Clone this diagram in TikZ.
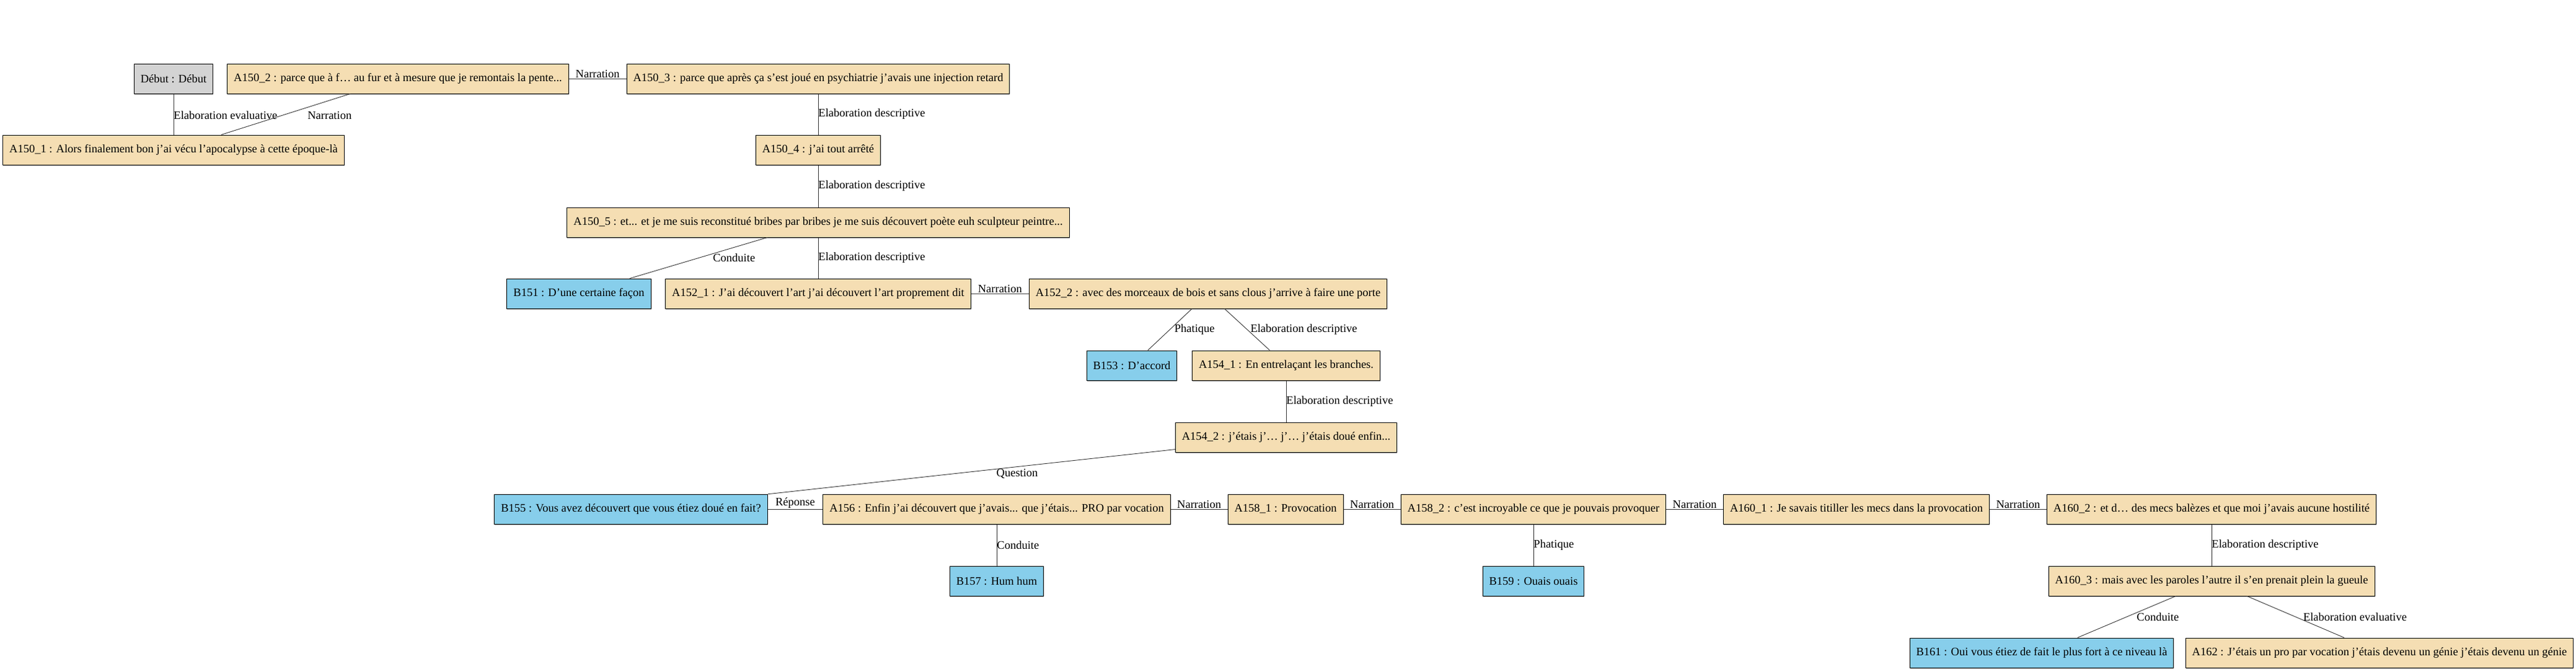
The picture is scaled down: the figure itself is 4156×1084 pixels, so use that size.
\documentclass[tikz,border=0pt]{standalone}
\usepackage{fontspec}
\setmainfont{Liberation Serif}
\usetikzlibrary{shadows}
\begin{document}
\begin{tikzpicture}[x=1pt,y=-1pt,font=\fontsize{18.5}{21}\selectfont,
  unit/.style={draw=black, line width=1pt, inner xsep=10.5pt, minimum height=48pt,
    general shadow={fill=black!30, shadow xshift=0.5pt, shadow yshift=-2pt}},
  abox/.style={unit, fill=a area},
  bbox/.style={unit, fill=b area},
  dbox/.style={unit, fill=d area},
  rel/.style={draw=black!80, line width=0.9pt},
  lbl/.style={inner sep=0pt, anchor=west},
  top/.style={inner sep=1pt, anchor=south}]
\definecolor{a area}{HTML}{F5DEB3}
\definecolor{b area}{HTML}{87CEEB}
\definecolor{d area}{HTML}{D3D3D3}
\useasboundingbox (0,0) rectangle (4156,1084);
    % first rows
    \node[dbox] (debut) at (280,127) {Début : Début};
    \node[abox] (a150_2) at (642,127) {A150\_2 : parce que à f… au fur et à mesure que je remontais la pente...};
    \node[abox] (a150_3) at (1320,127) {A150\_3 : parce que après ça s’est joué en psychiatrie j’avais une injection retard};
    \node[abox] (a150_1) at (280,242) {A150\_1 : Alors finalement bon j’ai vécu l’apocalypse à cette époque-là};
    \node[abox] (a150_4) at (1320,242) {A150\_4 : j’ai tout arrêté};
    \node[abox] (a150_5) at (1320,359) {A150\_5 : et... et je me suis reconstitué bribes par bribes je me suis découvert poète euh sculpteur peintre...};
    \node[bbox] (b151) at (934,474) {B151 : D’une certaine façon};
    \node[abox] (a152_1) at (1320,474) {A152\_1 : J’ai découvert l’art j’ai découvert l’art proprement dit};
    \node[abox] (a152_2) at (1949,474) {A152\_2 : avec des morceaux de bois et sans clous j’arrive à faire une porte};
    \node[bbox] (b153) at (1826,590) {B153 : D’accord};
    \node[abox] (a154_1) at (2075,590) {A154\_1 : En entrelaçant les branches.};
    \node[abox] (a154_2) at (2075,706) {A154\_2 : j’étais j’… j’… j’étais doué enfin...};
    % long row
    \node[bbox] (b155) at (1018,822) {B155 : Vous avez découvert que vous étiez doué en fait?};
    \node[abox] (a156) at (1608,822) {A156 : Enfin j’ai découvert que j’avais... que j’étais... PRO par vocation};
    \node[abox] (a158_1) at (2074,822) {A158\_1 : Provocation};
    \node[abox] (a158_2) at (2474,822) {A158\_2 : c’est incroyable ce que je pouvais provoquer};
    \node[abox] (a160_1) at (2995,822) {A160\_1 : Je savais titiller les mecs dans la provocation};
    \node[abox] (a160_2) at (3568,822) {A160\_2 : et d… des mecs balèzes et que moi j’avais aucune hostilité};
    \node[bbox] (b157) at (1608,938) {B157 : Hum hum};
    \node[bbox] (b159) at (2474,938) {B159 : Ouais ouais};
    \node[abox] (a160_3) at (3568,938) {A160\_3 : mais avec les paroles l’autre il s’en prenait plein la gueule};
    \node[bbox] (b161) at (3294,1054) {B161 : Oui vous étiez de fait le plus fort à ce niveau là};
    \node[abox] (a162) at (3839,1054) {A162 : J’étais un pro par vocation j’étais devenu un génie j’étais devenu un génie};

    % relations
    \draw[rel] (debut) -- node[lbl, yshift=-2pt] {Elaboration evaluative} (a150_1);
    \draw[rel] (a150_2) -- node[lbl, xshift=35pt, yshift=-2pt] {Narration} (a150_1);
    \draw[rel] (a150_2) -- node[top] {Narration} (a150_3);
    \draw[rel] (a150_3) -- node[lbl] {Elaboration descriptive} (a150_4);
    \draw[rel] (a150_4) -- node[lbl] {Elaboration descriptive} (a150_5);
    \draw[rel] (a150_5) -- node[lbl, xshift=23pt] {Conduite} (b151);
    \draw[rel] (a150_5) -- node[lbl] {Elaboration descriptive} (a152_1);
    \draw[rel] (a152_1) -- node[top] {Narration} (a152_2);
    \draw[rel] (a152_2) -- node[lbl, xshift=7pt] {Phatique} (b153);
    \draw[rel] (a152_2) -- node[lbl, xshift=5pt] {Elaboration descriptive} (a154_1);
    \draw[rel] (a154_1) -- node[lbl] {Elaboration descriptive} (a154_2);
    \draw[rel] (a154_2) -- node[lbl, xshift=40pt, yshift=-3pt] {Question} (b155);
    \draw[rel] (b155) -- node[top] {Réponse} (a156);
    \draw[rel] (a156) -- node[top] {Narration} (a158_1);
    \draw[rel] (a158_1) -- node[top] {Narration} (a158_2);
    \draw[rel] (a158_2) -- node[top] {Narration} (a160_1);
    \draw[rel] (a160_1) -- node[top] {Narration} (a160_2);
    \draw[rel] (a156) -- node[lbl] {Conduite} (b157);
    \draw[rel] (a158_2) -- node[lbl] {Phatique} (b159);
    \draw[rel] (a160_2) -- node[lbl] {Elaboration descriptive} (a160_3);
    \draw[rel] (a160_3) -- node[lbl, xshift=16pt] {Conduite} (b161);
    \draw[rel] (a160_3) -- node[lbl, xshift=12pt] {Elaboration evaluative} (a162);

\end{tikzpicture}
\end{document}
